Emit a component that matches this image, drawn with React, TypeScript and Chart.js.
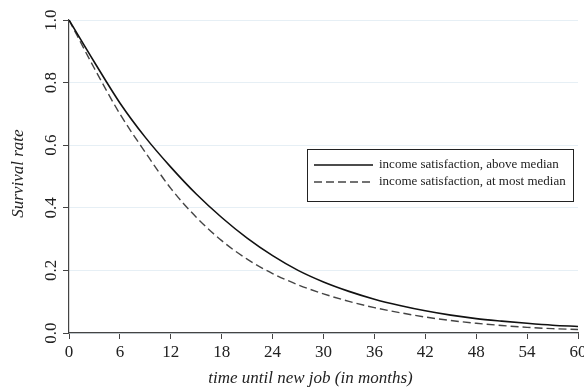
import React, { useEffect, useRef } from "react";
import { Chart, registerables } from "chart.js";

Chart.register(...registerables);

const months = [0, 3, 6, 9, 12, 15, 18, 21, 24, 27, 30, 33, 36, 39, 42, 45, 48, 51, 54, 57, 60];
const aboveMedian = [1.0, 0.865, 0.735, 0.625, 0.53, 0.444, 0.369, 0.303, 0.247, 0.2, 0.163, 0.133, 0.108, 0.088, 0.071, 0.057, 0.046, 0.038, 0.031, 0.025, 0.021];
const atMostMedian = [1.0, 0.845, 0.7, 0.577, 0.462, 0.37, 0.295, 0.236, 0.19, 0.154, 0.125, 0.101, 0.081, 0.065, 0.051, 0.04, 0.031, 0.024, 0.018, 0.014, 0.011];
const seriesLabels = ["income satisfaction, above median", "income satisfaction, at most median"];
const yTickValues = [0, 0.2, 0.4, 0.6, 0.8, 1.0];
const xTitle = "time until new job (in months)";
const yTitle = "Survival rate";

const FONT = "'Liberation Serif', 'DejaVu Serif', serif";

const textPlugin = {
  id: "customText",
  afterDraw(chart: any) {
    const { ctx, chartArea, scales } = chart;
    const ys = scales.y;
    ctx.save();
    ctx.fillStyle = "#222";
    // y tick labels, rotated
    ctx.font = `17px ${FONT}`;
    ctx.textAlign = "center";
    ctx.textBaseline = "middle";
    yTickValues.forEach((v) => {
      const py = ys.getPixelForValue(v);
      ctx.save();
      ctx.translate(chartArea.left - 17, py);
      ctx.rotate(-Math.PI / 2);
      ctx.fillText(v.toFixed(1), 0, 0);
      ctx.restore();
    });
    // y title
    ctx.font = `italic 17px ${FONT}`;
    ctx.save();
    ctx.translate(chartArea.left - 50, (chartArea.top + chartArea.bottom) / 2 - 3);
    ctx.rotate(-Math.PI / 2);
    ctx.fillText(yTitle, 0, 0);
    ctx.restore();
    // x title
    ctx.fillText(xTitle, (chartArea.left + chartArea.right) / 2 - 13, chartArea.bottom + 46);

    // legend box
    const bx = chartArea.right - 271;
    const by = chartArea.top + 129;
    const bw = 266;
    const bh = 52;
    ctx.fillStyle = "#fff";
    ctx.fillRect(bx, by, bw, bh);
    ctx.strokeStyle = "#222";
    ctx.lineWidth = 1;
    ctx.strokeRect(bx + 0.5, by + 0.5, bw, bh);
    const dsets = chart.data.datasets;
    ctx.font = `13px ${FONT}`;
    ctx.textAlign = "left";
    const rows = [by + 16, by + 33];
    dsets.forEach((ds: any, i: number) => {
      const ly = rows[i];
      ctx.beginPath();
      ctx.strokeStyle = ds.borderColor;
      ctx.lineWidth = ds.borderWidth;
      ctx.setLineDash(ds.borderDash || []);
      ctx.moveTo(bx + 7, ly);
      ctx.lineTo(bx + 66, ly);
      ctx.stroke();
      ctx.setLineDash([]);
      ctx.fillStyle = "#222";
      ctx.fillText(ds.label, bx + 72, ly);
    });
    ctx.restore();
  },
};

export default function App() {
  const ref = useRef<HTMLCanvasElement | null>(null);
  useEffect(() => {
    document.body.style.margin = "0";
    if (!ref.current) return;
    const chart = new Chart(ref.current, {
      type: "line",
      data: {
        datasets: [
          {
            label: seriesLabels[0],
            data: months.map((m, i) => ({ x: m, y: aboveMedian[i] })),
            borderColor: "#111",
            borderWidth: 1.6,
            pointRadius: 0,
            cubicInterpolationMode: "monotone",
            fill: false,
          },
          {
            label: seriesLabels[1],
            data: months.map((m, i) => ({ x: m, y: atMostMedian[i] })),
            borderColor: "#444",
            borderWidth: 1.4,
            borderDash: [8, 4],
            pointRadius: 0,
            cubicInterpolationMode: "monotone",
            fill: false,
          },
        ],
      },
      options: {
        animation: false,
        responsive: true,
        maintainAspectRatio: false,
        layout: { padding: { top: 20, right: 6, left: 0, bottom: 0 } },
        plugins: { legend: { display: false }, tooltip: { enabled: false } },
        scales: {
          x: {
            type: "linear",
            min: 0,
            max: 60,
            ticks: {
              stepSize: 6,
              color: "#222",
              font: { family: FONT, size: 17 },
              padding: 3,
              maxRotation: 0,
              autoSkip: false,
            },
            grid: {
              drawOnChartArea: false,
              drawTicks: true,
              tickLength: 6,
              tickColor: "#444",
              tickWidth: 1,
            },
            border: { color: "#444", width: 1.2 },
            afterFit: (s: any) => {
              s.height = 57;
              s.paddingLeft = 0;
              s.paddingRight = 0;
            },
          },
          y: {
            type: "linear",
            min: 0,
            max: 1,
            ticks: { stepSize: 0.2, display: false },
            grid: {
              color: "#e6eff5",
              lineWidth: 1,
              drawTicks: true,
              tickLength: 6,
              tickColor: "#444",
              tickWidth: 1,
            },
            border: { color: "#444", width: 1.2 },
            afterFit: (s: any) => {
              s.width = 69;
              s.paddingTop = 0;
              s.paddingBottom = 0;
            },
          },
        },
      },
      plugins: [textPlugin],
    } as any);
    return () => chart.destroy();
  }, []);
  return (
    <div style={{ width: 584, height: 390, position: "relative" }}>
      <canvas ref={ref} />
    </div>
  );
}
